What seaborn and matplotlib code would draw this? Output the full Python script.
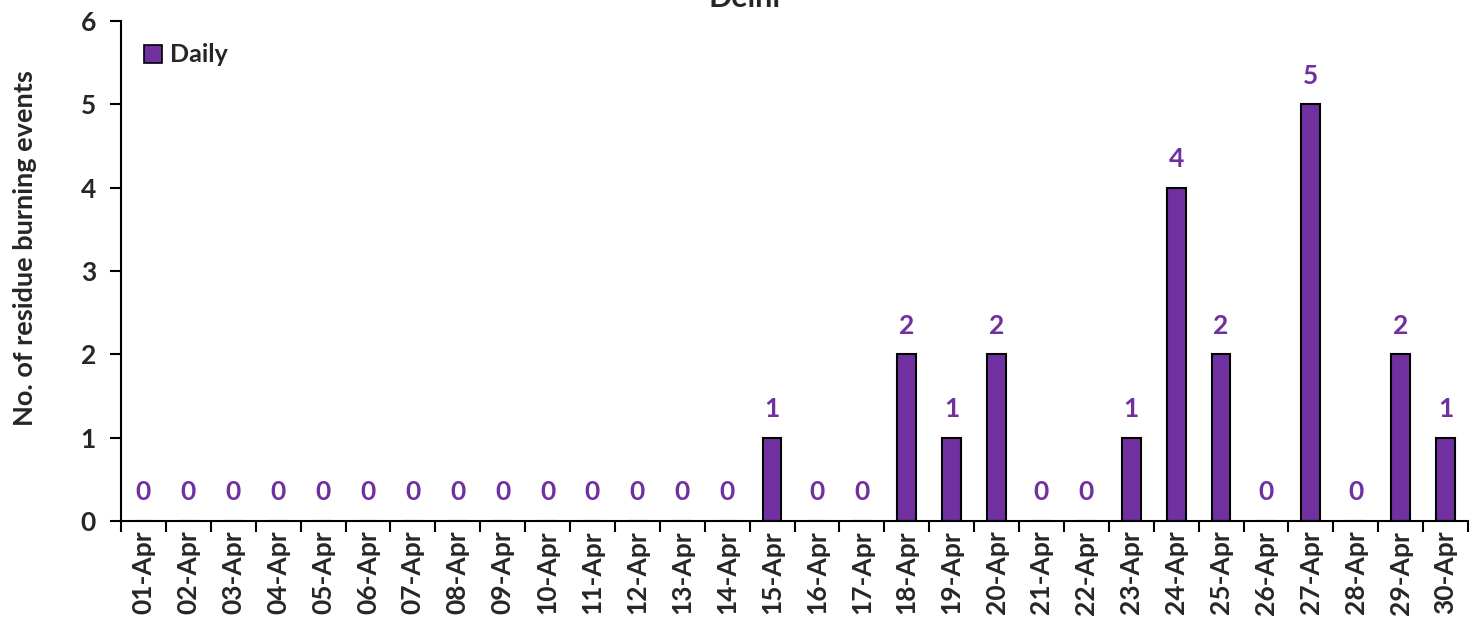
import matplotlib
matplotlib.use("Agg")
import matplotlib.pyplot as plt
import seaborn as sns
import pandas as pd
from matplotlib.ticker import FixedLocator, NullFormatter
from matplotlib.patches import Patch

dates = [f"{d:02d}-Apr" for d in range(1, 31)]
values = [0, 0, 0, 0, 0, 0, 0, 0, 0, 0, 0, 0, 0, 0, 1, 0, 0, 2, 1, 2,
          0, 0, 1, 4, 2, 0, 5, 0, 2, 1]
title = "Delhi"
ylabel = "No. of residue burning events"
series = "Daily"

purple = "#7030A0"
sns.set_theme(style="white")
plt.rcParams["font.family"] = ["Lato", "DejaVu Sans"]
plt.rcParams["font.weight"] = "bold"

df = pd.DataFrame({"date": dates, "value": values})

fig = plt.figure(figsize=(14.71, 6.25), dpi=100)
ax = fig.add_axes([121/1471, 1-521/625, (1468-121)/1471, 500/625])
sns.barplot(data=df, x="date", y="value", color=purple, edgecolor="black",
            linewidth=1.5, width=0.42, saturation=1, ax=ax)

ax.set_xlim(-0.5, len(dates) - 0.5)
ax.set_ylim(0, 6)
ax.set_yticks(range(0, 7))
ax.set_yticklabels([str(i) for i in range(0, 7)], fontsize=19, fontweight="bold")
ax.set_xticks(range(len(dates)))
ax.set_xticklabels(dates, rotation=90, fontsize=19, fontweight="bold")
ax.tick_params(axis="x", which="major", length=0, pad=7)
ax.xaxis.set_minor_locator(FixedLocator([i - 0.5 for i in range(len(dates) + 1)]))
ax.xaxis.set_minor_formatter(NullFormatter())
ax.tick_params(axis="x", which="minor", length=8, width=1.5, direction="out", color="black", bottom=True)
ax.tick_params(axis="y", length=8, width=1.5, direction="out", color="black", left=True, pad=10)
for s in ["top", "right"]:
    ax.spines[s].set_visible(False)
for s in ["left", "bottom"]:
    ax.spines[s].set_color("black")
    ax.spines[s].set_linewidth(1.5)

ax.set_xlabel("")
ax.set_ylabel(ylabel, fontsize=19.5, fontweight="bold", va="center")
ax.yaxis.set_label_coords((25 - 121) / 1347, (521 - 248) / 500)

for i, v in enumerate(values):
    ax.annotate(str(v), (i, v), xytext=(0, 12), textcoords="offset points",
                ha="center", va="bottom", color=purple, fontsize=19, fontweight="bold")

handle = Patch(facecolor=purple, edgecolor="black", linewidth=1.2)
ax.legend([handle], [series], loc="upper left", bbox_to_anchor=(0.0, 1.0),
          frameon=False, prop={"size": 18, "weight": "bold"},
          handlelength=0.75, handleheight=0.75, handletextpad=0.3)

fig.text(745/1471, 1-7/625, title, ha="center", va="baseline", fontsize=22, fontweight="bold")

fig.savefig("out.png", dpi=100)
